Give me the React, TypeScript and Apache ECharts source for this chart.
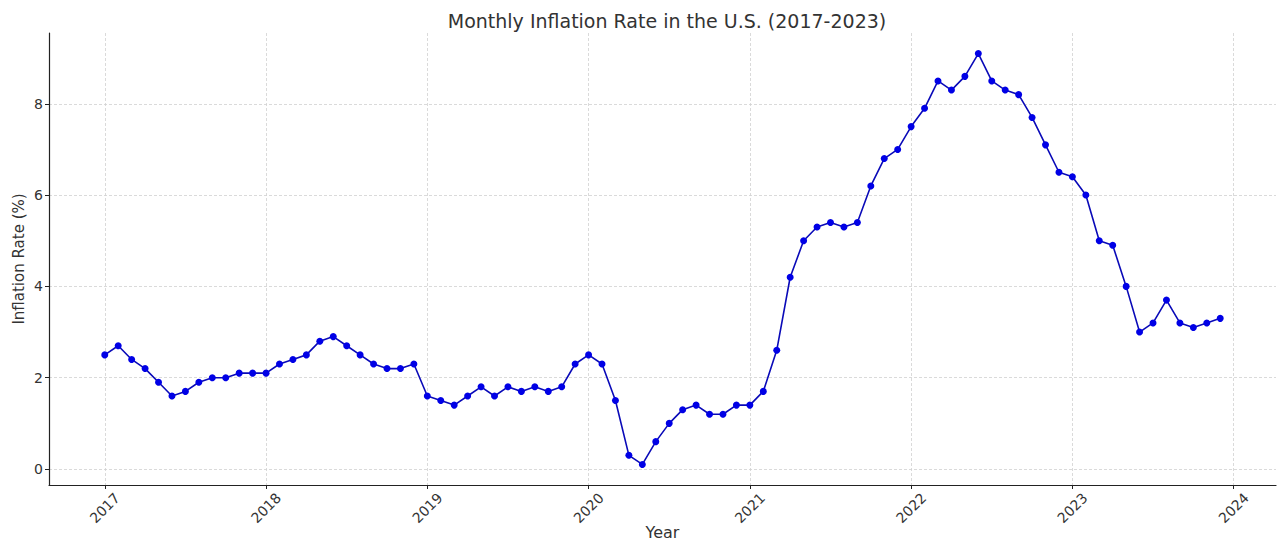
import React, { useEffect, useRef } from "react";
import * as echarts from "echarts";

const years = [2017, 2018, 2019, 2020, 2021, 2022, 2023];
const rate2017 = [2.5, 2.7, 2.4, 2.2, 1.9, 1.6, 1.7, 1.9, 2.0, 2.0, 2.1, 2.1];
const rate2018 = [2.1, 2.3, 2.4, 2.5, 2.8, 2.9, 2.7, 2.5, 2.3, 2.2, 2.2, 2.3];
const rate2019 = [1.6, 1.5, 1.4, 1.6, 1.8, 1.6, 1.8, 1.7, 1.8, 1.7, 1.8, 2.3];
const rate2020 = [2.5, 2.3, 1.5, 0.3, 0.1, 0.6, 1.0, 1.3, 1.4, 1.2, 1.2, 1.4];
const rate2021 = [1.4, 1.7, 2.6, 4.2, 5.0, 5.3, 5.4, 5.3, 5.4, 6.2, 6.8, 7.0];
const rate2022 = [7.5, 7.9, 8.5, 8.3, 8.6, 9.1, 8.5, 8.3, 8.2, 7.7, 7.1, 6.5];
const rate2023 = [6.4, 6.0, 5.0, 4.9, 4.0, 3.0, 3.2, 3.7, 3.2, 3.1, 3.2, 3.3];
const yearTicks = [2017, 2018, 2019, 2020, 2021, 2022, 2023, 2024];
const yTicks = [0, 2, 4, 6, 8];

const ratesByYear = [rate2017, rate2018, rate2019, rate2020, rate2021, rate2022, rate2023];

export default function App() {
  const ref = useRef<HTMLDivElement>(null);
  useEffect(() => {
    if (!ref.current) return;
    const chart = echarts.init(ref.current, null, { renderer: "svg" });
    const data: [number, number][] = [];
    years.forEach((y, i) => {
      ratesByYear[i].forEach((v, m) => data.push([y + m / 12, v]));
    });
    const first = data[0][0];
    const last = data[data.length - 1][0];
    const pad = (last - first) * 0.05;
    const font = "DejaVu Sans";
    chart.setOption({
      animation: false,
      backgroundColor: "#ffffff",
      title: {
        text: "Monthly Inflation Rate in the U.S. (2017-2023)",
        left: 662,
        top: 6,
        textAlign: "center",
        textStyle: { fontFamily: font, fontSize: 19, fontWeight: "normal", color: "#333333" },
      },
      grid: { left: 49, right: 4, top: 33, bottom: 55, containLabel: false, outerBoundsMode: "none" },
      xAxis: {
        type: "value",
        min: first - pad,
        max: last + pad,
        name: "Year",
        nameLocation: "middle",
        nameGap: 39,
        nameMoveOverlap: false,
        nameTextStyle: { fontFamily: font, fontSize: 16, color: "#333333" },
        axisLine: { show: true, onZero: false, lineStyle: { color: "#222222", width: 1.2 } },
        axisTick: { show: true, length: 4, inside: false, customValues: yearTicks, lineStyle: { color: "#222222" } },
        axisLabel: {
          customValues: yearTicks,
          rotate: 45,
          align: "center",
          verticalAlign: "middle",
          margin: 23,
          fontFamily: font,
          fontSize: 14,
          color: "#333333",
          formatter: (v: number) => String(Math.round(v)),
        },
        splitLine: { show: true, lineStyle: { color: "#d0d0d0", type: [3, 2], width: 0.8 } },
      },
      yAxis: {
        type: "value",
        min: -0.35,
        max: 9.55,
        name: "Inflation Rate (%)",
        nameLocation: "middle",
        nameGap: 23,
        nameMoveOverlap: false,
        nameTextStyle: { fontFamily: font, fontSize: 15, color: "#333333" },
        axisLine: { show: true, onZero: false, lineStyle: { color: "#222222", width: 1.2 } },
        axisTick: { show: true, length: 4, customValues: yTicks, lineStyle: { color: "#222222" } },
        axisLabel: { customValues: yTicks, margin: 6, fontFamily: font, fontSize: 14, color: "#333333" },
        splitLine: { show: true, lineStyle: { color: "#d0d0d0", type: [3, 2], width: 0.8 } },
      },
      series: [
        {
          type: "line",
          data,
          symbol: "circle",
          symbolSize: 7,
          showSymbol: true,
          lineStyle: { color: "#0a0ab8", width: 1.6 },
          itemStyle: { color: "#0000e6" },
        },
      ],
    });
    return () => chart.dispose();
  }, []);
  return (
    <div
      ref={ref}
      style={{ position: "fixed", left: 0, top: 0, width: 1280, height: 540, background: "#fff" }}
    />
  );
}
